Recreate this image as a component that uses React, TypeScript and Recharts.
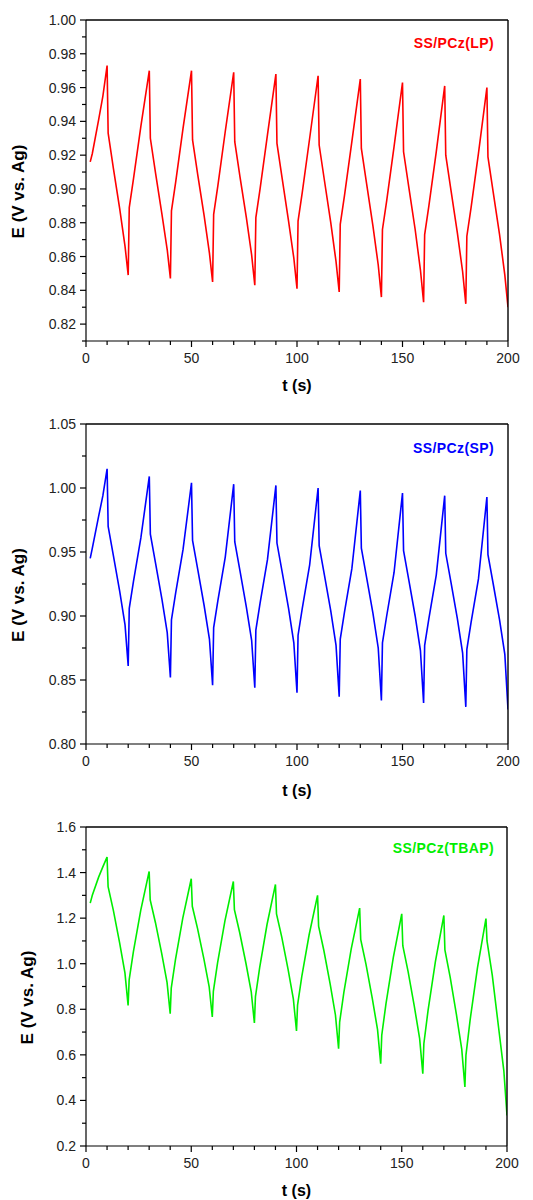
import React from "react";
import { LineChart, Line, XAxis, YAxis, Legend, Label } from "recharts";

// time points (s), shared by the three curves
const TIME = [
  2, 3, 6, 8, 10,
  10.5, 13, 16, 18.5, 20, 20.5, 22.5, 26, 30,
  30.5, 33, 36, 38.5, 40, 40.5, 42.5, 46, 50,
  50.5, 53, 56, 58.5, 60, 60.5, 62.5, 66, 70,
  70.5, 73, 76, 78.5, 80, 80.5, 82.5, 86, 90,
  90.5, 93, 96, 98.5, 100, 100.5, 102.5, 106, 110,
  110.5, 113, 116, 118.5, 120, 120.5, 122.5, 126, 130,
  130.5, 133, 136, 138.5, 140, 140.5, 142.5, 146, 150,
  150.5, 153, 156, 158.5, 160, 160.5, 162.5, 166, 170,
  170.5, 173, 176, 178.5, 180, 180.5, 182.5, 186, 190,
  190.5, 193, 196, 198.5, 200,
];

const LP = [
  0.916, 0.921, 0.941, 0.955, 0.973,
  0.933, 0.912, 0.888, 0.866, 0.849, 0.889, 0.906, 0.937, 0.970,
  0.930, 0.909, 0.885, 0.864, 0.847, 0.887, 0.904, 0.936, 0.970,
  0.929, 0.908, 0.884, 0.862, 0.845, 0.885, 0.902, 0.934, 0.969,
  0.928, 0.907, 0.883, 0.861, 0.843, 0.883, 0.900, 0.932, 0.968,
  0.927, 0.906, 0.881, 0.859, 0.841, 0.881, 0.898, 0.930, 0.967,
  0.926, 0.905, 0.880, 0.857, 0.839, 0.879, 0.896, 0.928, 0.965,
  0.924, 0.903, 0.878, 0.855, 0.836, 0.876, 0.893, 0.925, 0.963,
  0.922, 0.901, 0.876, 0.852, 0.833, 0.873, 0.890, 0.922, 0.961,
  0.920, 0.899, 0.874, 0.851, 0.832, 0.872, 0.889, 0.921, 0.960,
  0.919, 0.898, 0.873, 0.849, 0.830,
];

const SP = [
  0.945, 0.953, 0.978, 0.994, 1.015,
  0.970, 0.947, 0.919, 0.893, 0.861, 0.906, 0.927, 0.961, 1.009,
  0.964, 0.941, 0.913, 0.887, 0.852, 0.897, 0.918, 0.952, 1.004,
  0.959, 0.936, 0.908, 0.882, 0.846, 0.891, 0.912, 0.946, 1.003,
  0.958, 0.935, 0.907, 0.881, 0.844, 0.889, 0.910, 0.944, 1.002,
  0.957, 0.934, 0.906, 0.879, 0.840, 0.885, 0.906, 0.940, 1.000,
  0.955, 0.932, 0.904, 0.877, 0.837, 0.882, 0.903, 0.937, 0.998,
  0.953, 0.930, 0.902, 0.875, 0.834, 0.879, 0.900, 0.934, 0.996,
  0.951, 0.928, 0.900, 0.873, 0.832, 0.877, 0.898, 0.932, 0.994,
  0.949, 0.926, 0.898, 0.871, 0.829, 0.874, 0.895, 0.929, 0.993,
  0.948, 0.925, 0.897, 0.870, 0.827,
];

const TBAP = [
  1.266, 1.300, 1.380, 1.425, 1.468,
  1.338, 1.234, 1.090, 0.960, 0.817, 0.929, 1.052, 1.234, 1.405,
  1.280, 1.180, 1.043, 0.918, 0.781, 0.893, 1.018, 1.201, 1.373,
  1.252, 1.154, 1.021, 0.900, 0.766, 0.879, 1.004, 1.188, 1.361,
  1.237, 1.137, 1.001, 0.877, 0.740, 0.856, 0.983, 1.172, 1.348,
  1.219, 1.117, 0.975, 0.846, 0.705, 0.818, 0.943, 1.127, 1.300,
  1.165, 1.058, 0.910, 0.775, 0.627, 0.744, 0.874, 1.065, 1.244,
  1.107, 0.998, 0.848, 0.711, 0.561, 0.686, 0.824, 1.028, 1.219,
  1.079, 0.966, 0.812, 0.671, 0.517, 0.649, 0.795, 1.010, 1.212,
  1.061, 0.941, 0.775, 0.625, 0.459, 0.599, 0.755, 0.984, 1.198,
  1.100, 0.950, 0.720, 0.530, 0.334,
];

const X_TICKS = [0, 10, 20, 30, 40, 50, 60, 70, 80, 90, 100, 110, 120, 130, 140, 150, 160, 170, 180, 190, 200];
const X_LABELS = [0, 50, 100, 150, 200];

const LP_TICKS = [0.81, 0.82, 0.83, 0.84, 0.85, 0.86, 0.87, 0.88, 0.89, 0.9, 0.91, 0.92, 0.93, 0.94, 0.95, 0.96, 0.97, 0.98, 0.99, 1.0];
const LP_LABELS = [0.82, 0.84, 0.86, 0.88, 0.9, 0.92, 0.94, 0.96, 0.98, 1.0];
const SP_TICKS = [0.8, 0.825, 0.85, 0.875, 0.9, 0.925, 0.95, 0.975, 1.0, 1.025, 1.05];
const SP_LABELS = [0.8, 0.85, 0.9, 0.95, 1.0, 1.05];
const TBAP_TICKS = [0.2, 0.3, 0.4, 0.5, 0.6, 0.7, 0.8, 0.9, 1.0, 1.1, 1.2, 1.3, 1.4, 1.5, 1.6];
const TBAP_LABELS = [0.2, 0.4, 0.6, 0.8, 1.0, 1.2, 1.4, 1.6];

const FONT = "'Liberation Sans', Arial, sans-serif";
const AXIS = "#000";

const hasValue = (list: number[], v: number) => list.some((l) => Math.abs(l - v) < 1e-6);

const makeXTick = (labels: number[]) => (props: any) => {
  const { x, y, payload } = props;
  const major = hasValue(labels, payload.value);
  return (
    <g>
      <line x1={x} y1={y} x2={x} y2={y + (major ? 6 : 4)} stroke={AXIS} strokeWidth={1.2} />
      {major && (
        <text x={x} y={y + 22} textAnchor="middle" fontSize={14} fontFamily={FONT} fill="#222">
          {payload.value}
        </text>
      )}
    </g>
  );
};

const makeYTick = (labels: number[], digits: number) => (props: any) => {
  const { x, y, payload } = props;
  const major = hasValue(labels, payload.value);
  return (
    <g>
      <line x1={x} y1={y} x2={x - (major ? 6 : 4)} y2={y} stroke={AXIS} strokeWidth={1.2} />
      {major && (
        <text x={x - 10} y={y + 5} textAnchor="end" fontSize={14} fontFamily={FONT} fill="#222">
          {payload.value.toFixed(digits)}
        </text>
      )}
    </g>
  );
};

interface PanelProps {
  values: number[];
  color: string;
  name: string;
  domain: [number, number];
  yTicks: number[];
  yLabels: number[];
  digits: number;
  plot: { top: number; right: number; bottom: number; left: number };
  yTitleX: number;
  xTitleY: number;
  legendTop: number;
}

const Panel = ({ values, color, name, domain, yTicks, yLabels, digits, plot, yTitleX, xTitleY, legendTop }: PanelProps) => {
  const data = TIME.map((t, i) => ({ t, e: values[i] }));
  // all four axes take 1px each
  const margin = { top: plot.top - 1, right: plot.right - 1, bottom: plot.bottom - 1, left: plot.left - 1 };
  const plotH = 400 - plot.top - plot.bottom;
  const plotMidX = plot.left + (533 - plot.left - plot.right) / 2;
  const yTitleY = plot.top + plotH / 2 + 11;

  return (
    <LineChart width={533} height={400} data={data} margin={margin}>
      {/* frame: top and right edges */}
      <XAxis xAxisId="top" orientation="top" dataKey="t" type="number" domain={[0, 200]} height={1} tick={false} axisLine={{ stroke: AXIS, strokeWidth: 1.4 }} />
      <YAxis yAxisId="right" orientation="right" type="number" domain={[domain[0], domain[1]]} width={1} tick={false} axisLine={{ stroke: AXIS, strokeWidth: 1.4 }} />
      <XAxis
        dataKey="t"
        type="number"
        domain={[0, 200]}
        ticks={X_TICKS}
        interval={0}
        tickSize={0}
        tickMargin={0}
        tickLine={false}
        tick={makeXTick(X_LABELS)}
        height={1}
        axisLine={{ stroke: AXIS, strokeWidth: 1.2 }}
        allowDataOverflow
      >
        <Label
          content={() => (
            <text x={plotMidX} y={xTitleY} textAnchor="middle" dominantBaseline="central" fontSize={16} fontWeight="bold" fontFamily={FONT} fill="#000">
              t (s)
            </text>
          )}
        />
      </XAxis>
      <YAxis
        type="number"
        domain={[domain[0], domain[1]]}
        ticks={yTicks}
        interval={0}
        tickSize={0}
        tickMargin={0}
        tickLine={false}
        tick={makeYTick(yLabels, digits)}
        width={1}
        axisLine={{ stroke: AXIS, strokeWidth: 1.2 }}
        allowDataOverflow
      >
        <Label
          content={() => (
            <text
              x={yTitleX}
              y={yTitleY}
              transform={`rotate(-90, ${yTitleX}, ${yTitleY})`}
              textAnchor="middle"
              dominantBaseline="central"
              fontSize={17}
              fontWeight="bold"
              fontFamily={FONT}
              fill="#000"
            >
              E (V vs. Ag)
            </text>
          )}
        />
      </YAxis>
      <Legend
        layout="horizontal"
        verticalAlign="middle"
        align="center"
        wrapperStyle={{ top: legendTop, left: "auto", right: 39, width: "auto" }}
        content={() => (
          <span style={{ color, fontFamily: FONT, fontWeight: "bold", fontSize: 14, lineHeight: "16px", letterSpacing: 0.4 }}>
            {name}
          </span>
        )}
      />
      <Line
        type="linear"
        dataKey="e"
        name={name}
        stroke={color}
        strokeWidth={1.6}
        dot={false}
        isAnimationActive={false}
      />
    </LineChart>
  );
};

export default function App() {
  return (
    <div style={{ position: "absolute", left: 0, top: 0, width: 533, height: 1200, background: "#fff" }}>
      <div style={{ position: "absolute", left: 0, top: 0 }}>
        <Panel
          values={LP}
          color="#ff0000"
          name="SS/PCz(LP)"
          domain={[0.81, 1.0]}
          yTicks={LP_TICKS}
          yLabels={LP_LABELS}
          digits={2}
          plot={{ top: 20, right: 25, bottom: 59, left: 86 }}
          yTitleX={18}
          xTitleY={385}
          legendTop={34}
        />
      </div>
      <div style={{ position: "absolute", left: 0, top: 400 }}>
        <Panel
          values={SP}
          color="#0000ff"
          name="SS/PCz(SP)"
          domain={[0.8, 1.05]}
          yTicks={SP_TICKS}
          yLabels={SP_LABELS}
          digits={2}
          plot={{ top: 24, right: 25, bottom: 56, left: 86 }}
          yTitleX={18}
          xTitleY={390}
          legendTop={39}
        />
      </div>
      <div style={{ position: "absolute", left: 0, top: 800 }}>
        <Panel
          values={TBAP}
          color="#00ee00"
          name="SS/PCz(TBAP)"
          domain={[0.2, 1.6]}
          yTicks={TBAP_TICKS}
          yLabels={TBAP_LABELS}
          digits={1}
          plot={{ top: 27, right: 26, bottom: 54, left: 86 }}
          yTitleX={27}
          xTitleY={390}
          legendTop={39}
        />
      </div>
    </div>
  );
}
